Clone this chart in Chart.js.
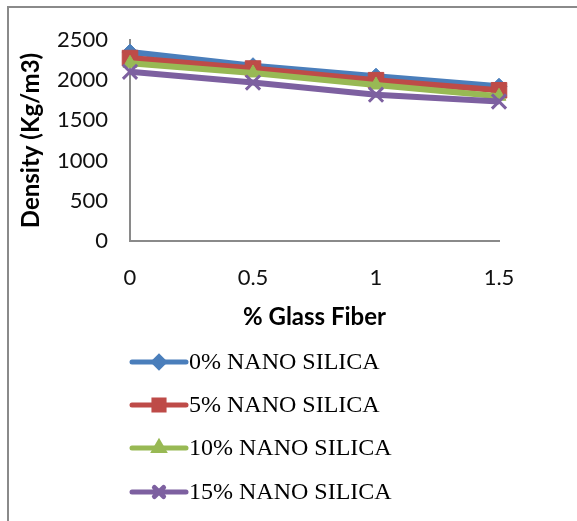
<!DOCTYPE html>
<html>
<head>
<meta charset="utf-8">
<script src="https://cdn.jsdelivr.net/npm/chart.js@4"></script>
<style>
  body { margin: 0; background: #fff; overflow: hidden; }
  #marco { position: absolute; left: 7px; top: 6px; width: 580px; height: 520px;
           border-left: 2px solid #8a8a8a; border-top: 2px solid #8a8a8a; }
  #grafico { position: absolute; left: 0; top: 0; }
</style>
</head>
<body>
<div id="marco"></div>
<canvas id="grafico" width="577" height="521"></canvas>
<script>
const fibra = ['0', '0.5', '1', '1.5'];
const silica0 = [2350, 2180, 2050, 1925];
const silica5 = [2275, 2145, 2000, 1875];
const silica10 = [2210, 2090, 1940, 1800];
const silica15 = [2105, 1970, 1820, 1735];
const nombres = ['0% NANO SILICA', '5% NANO SILICA', '10% NANO SILICA', '15% NANO SILICA'];

// leyenda vertical como en Excel, debajo del grafico
const leyendaVertical = {
  id: 'leyendaVertical',
  afterDraw(chart) {
    const ctx = chart.ctx;
    const filas = [362, 405, 448, 492];
    chart.data.datasets.forEach((ds, i) => {
      const y = filas[i];
      ctx.save();
      ctx.strokeStyle = ds.borderColor;
      ctx.lineWidth = 5;
      ctx.lineCap = 'round';
      ctx.beginPath();
      ctx.moveTo(132, y);
      ctx.lineTo(186, y);
      ctx.stroke();
      ctx.fillStyle = ds.pointBackgroundColor;
      ctx.strokeStyle = ds.pointBorderColor;
      Chart.helpers.drawPoint(ctx, {
        pointStyle: ds.pointStyle,
        radius: ds.pointRadius * 0.65,
        borderWidth: ds.pointStyle === 'crossRot' ? 2 : 1,
        rotation: 0
      }, 159, y);
      ctx.fillStyle = '#000';
      ctx.font = '24px "Liberation Serif"';
      ctx.textBaseline = 'middle';
      ctx.textAlign = 'left';
      ctx.fillText(ds.label, 189, y + 1);
      ctx.restore();
    });
  }
};

function serie(nombre, valores, color, estilo, radio, orden) {
  return {
    label: nombre,
    data: valores,
    borderColor: color,
    backgroundColor: color,
    pointBackgroundColor: color,
    pointBorderColor: color,
    borderWidth: 6,
    pointStyle: estilo,
    pointRadius: radio,
    pointBorderWidth: estilo === 'crossRot' ? 3 : 1,
    pointHoverRadius: radio,
    tension: 0,
    order: orden
  };
}

new Chart('grafico', {
  type: 'line',
  data: {
    labels: fibra,
    datasets: [
      serie(nombres[0], silica0, '#4a7ebb', 'rectRot', 8, 3),
      serie(nombres[1], silica5, '#be4b48', 'rect', 11, 2),
      serie(nombres[2], silica10, '#98b954', 'triangle', 8, 1),
      serie(nombres[3], silica15, '#7d60a0', 'crossRot', 10, 0)
    ]
  },
  options: {
    responsive: false,
    animation: false,
    layout: { padding: { top: 40, left: 10, right: 78, bottom: 180 } },
    plugins: {
      legend: { display: false },
      tooltip: { enabled: false }
    },
    scales: {
      x: {
        offset: false,
        grid: { display: false, drawTicks: false },
        border: { display: true, color: '#8a8a8a', width: 2 },
        ticks: { color: '#111', padding: 24, font: { family: 'Lato', size: 22 } },
        title: {
          display: true,
          text: '% Glass Fiber',
          color: '#000',
          padding: { top: 0, bottom: 9 },
          font: { family: 'Lato', size: 24, weight: 'bold' }
        },
        afterFit: (scale) => { scale.height = 100; }
      },
      y: {
        min: 0,
        max: 2500,
        grid: { display: false, drawTicks: false },
        border: { display: true, color: '#8a8a8a', width: 2 },
        ticks: {
          stepSize: 500,
          color: '#111',
          padding: 22,
          font: { family: 'Lato', size: 22 },
          callback: (valor) => String(valor)
        },
        title: {
          display: true,
          text: 'Density (Kg/m3)',
          color: '#000',
          padding: { top: 7, bottom: 0 },
          font: { family: 'Lato', size: 24, weight: 'bold' }
        },
        afterFit: (scale) => { scale.width = 120; }
      }
    }
  },
  plugins: [leyendaVertical]
});
</script>
</body>
</html>
